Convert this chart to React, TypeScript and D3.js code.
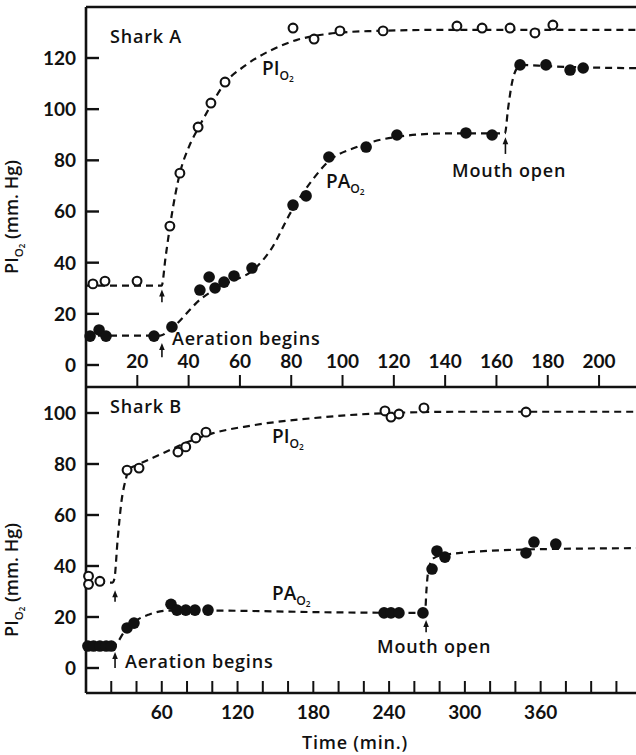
import React from "react";
import * as d3 from "d3";

const W = 636;
const H = 755;

// ---------- Shark A (top panel) ----------
const aPiO2Points: [number, number][] = [
  [2.7, 31.7], [7.4, 32.8], [19.9, 32.8], [32.7, 54.3], [36.6, 75], [43.7, 93],
  [48.7, 102.4], [54.2, 110.6], [80.7, 131.7], [88.9, 127.4], [99, 130.6],
  [115.8, 130.6], [144.6, 132.5], [154.4, 131.7], [165.3, 131.7], [175, 129.8], [182, 132.9],
];
const aPaO2Points: [number, number][] = [
  [1.6, 11.3], [5.1, 13.7], [7.8, 11.3], [26.5, 11.3], [33.5, 14.9], [44.4, 29.3],
  [48, 34.4], [50.3, 30.1], [53.8, 32.4], [57.7, 34.8], [64.7, 37.9], [80.7, 62.5],
  [85.8, 66.1], [94.7, 81.3], [109.2, 85.2], [121.2, 89.9], [148.1, 90.7], [158.3, 89.9],
  [169.2, 117.3], [179.3, 117.3], [188.7, 115.3], [193.8, 116.1],
];
// fitted dashed curves
const aPiO2Curve: [number, number][] = [
  [0, 31], [29.5, 31], [31, 42], [33, 56], [36.6, 75], [40, 85], [44, 93], [49, 102],
  [54, 110], [62, 117], [72, 123], [82, 127], [95, 129.5], [110, 130.5], [140, 131], [215, 131],
];
const aPaO2Curve: [number, number][] = [
  [0, 11.5], [29, 11.5], [33, 14], [45, 26], [55, 32], [65, 37], [72, 45], [80, 60],
  [88, 72], [95, 80], [105, 85], [120, 89], [140, 90.5], [163.3, 90.5], [164.5, 100],
  [166, 110], [168, 116], [170, 117.3], [180, 116.8], [215, 116],
];
// arrows: [time, headValue, tailValue]
const aArrows: [number, number, number][] = [
  [29.6, 29.5, 24.5],
  [29.6, 8.6, 3],
  [163.5, 89, 82.5],
];
const aYTicks = [0, 20, 40, 60, 80, 100, 120];
const aXTicks = [20, 40, 60, 80, 100, 120, 140, 160, 180, 200];

// ---------- Shark B (bottom panel) ----------
const bPiO2Points: [number, number][] = [
  [2, 36], [2, 32.8], [11, 34], [32.5, 77.6], [42, 78.4], [72.8, 84.7], [79, 86.7],
  [87, 90.2], [95, 92.5], [236.7, 100.8], [241.5, 98.4], [247.8, 99.6], [267.6, 102], [348.4, 100.4],
];
const bPaO2Points: [number, number][] = [
  [1.5, 8.6], [6, 8.6], [11, 8.6], [16, 8.6], [20, 8.6], [32.5, 15.7], [38, 17.6],
  [67.3, 25], [72, 22.7], [79, 22.7], [86.3, 22.7], [96.6, 22.7], [236, 21.6],
  [241.5, 21.6], [247.8, 21.6], [266.8, 21.6], [274, 38.8], [277.9, 45.9], [284.2, 43.5],
  [348.4, 45.1], [354.7, 49.4], [372, 48.6],
];
const bPiO2Curve: [number, number][] = [
  [0, 33.5], [21, 33.5], [22.5, 35], [25, 50], [28, 65], [31.5, 74], [34, 78],
  [40, 79.5], [60, 84], [80, 88.5], [100, 92], [130, 95], [180, 98], [240, 100],
  [300, 100.5], [436, 100.5],
];
const bPaO2Curve: [number, number][] = [
  [0, 8.6], [21, 8.6], [24, 9.5], [30, 14], [38, 18], [50, 21], [65, 22.5],
  [100, 22.5], [200, 21.8], [268.5, 21.6], [269.5, 30], [271, 38], [275, 43],
  [285, 44.5], [350, 46.5], [436, 47],
];
const bArrows: [number, number, number][] = [
  [23, 30.5, 26],
  [23, 6.3, 0],
  [269.3, 18.8, 14],
];
const bYTicks = [0, 20, 40, 60, 80, 100];
const bXTicks = d3.range(20, 421, 20);
const bXLabels = [60, 120, 180, 240, 300, 360];

// ---------- layout ----------
const LEFT = 86;
const TOP = 7;
const MID = 387;
const BOTTOM = 693;

const xA = d3.scaleLinear().domain([0, 214.4]).range([LEFT, W]);
const yA = d3.scaleLinear().domain([0, 120]).range([365, 58]);
const xB = d3.scaleLinear().domain([0, 435.5]).range([LEFT, W]);
const yB = d3.scaleLinear().domain([0, 100]).range([668, 413]);

const NUM_FONT = "Lato, 'DejaVu Sans', sans-serif";
const TXT_FONT = "'Open Sans', 'DejaVu Sans', sans-serif";
const INK = "#111";
const TXT_SIZE = 18;
const TXT_LS = 0.8;

function Curve({ pts, x, y }: { pts: [number, number][]; x: any; y: any }) {
  const line = d3
    .line<[number, number]>()
    .x((d) => x(d[0]))
    .y((d) => y(d[1]))
    .curve(d3.curveMonotoneX);
  return (
    <path d={line(pts) || ""} fill="none" stroke={INK} strokeWidth={2.2} strokeDasharray="7 5" />
  );
}

function Dots({ pts, x, y, open }: { pts: [number, number][]; x: any; y: any; open: boolean }) {
  return (
    <g>
      {pts.map((d, i) =>
        open ? (
          <circle key={i} cx={x(d[0])} cy={y(d[1])} r={4.4} fill="#fff" stroke={INK} strokeWidth={2.1} />
        ) : (
          <circle key={i} cx={x(d[0])} cy={y(d[1])} r={5.8} fill={INK} />
        )
      )}
    </g>
  );
}

function Arrows({ arr, x, y }: { arr: [number, number, number][]; x: any; y: any }) {
  return (
    <g>
      {arr.map((a, i) => {
        const cx = x(a[0]);
        const hy = y(a[1]);
        const ty = y(a[2]);
        return (
          <g key={i}>
            <line x1={cx} x2={cx} y1={hy + 4} y2={ty} stroke={INK} strokeWidth={1.6} />
            <path d={`M${cx - 2.8},${hy + 7} L${cx},${hy} L${cx + 2.8},${hy + 7} Z`} fill={INK} />
          </g>
        );
      })}
    </g>
  );
}

function SubLabel({ x, y, main, size = 19 }: { x: number; y: number; main: string; size?: number }) {
  return (
    <text x={x} y={y} fontFamily={TXT_FONT} fontWeight={600} fontSize={size} fill={INK}>
      {main}
      <tspan fontSize={size * 0.64} dy={5}>O</tspan>
      <tspan fontSize={size * 0.44} dy={2}>2</tspan>
    </text>
  );
}

function YTitle({ cx, cy }: { cx: number; cy: number }) {
  return (
    <text
      transform={`translate(${cx},${cy}) rotate(-90)`}
      textAnchor="middle"
      fontFamily={TXT_FONT}
      fontWeight={600}
      fontSize={18}
      fill={INK}
    >
      PI
      <tspan fontSize={11.5} dy={5}>O</tspan>
      <tspan fontSize={8} dy={2}>2</tspan>
      <tspan dy={-7}> (mm. Hg)</tspan>
    </text>
  );
}

function Note({ x, y, children }: { x: number; y: number; children: React.ReactNode }) {
  return (
    <text x={x} y={y} fontFamily={TXT_FONT} fontWeight={600} fontSize={TXT_SIZE} letterSpacing={TXT_LS} fill={INK}>
      {children}
    </text>
  );
}

export default function App() {
  return (
    <svg width={W} height={H} style={{ position: "absolute", left: 0, top: 0, background: "#fff" }}>
      <rect x={0} y={0} width={W} height={H} fill="#fff" />
      {/* frame */}
      <g stroke={INK} strokeWidth={2.6} fill="none">
        <line x1={LEFT} x2={LEFT} y1={TOP} y2={BOTTOM} />
        <line x1={LEFT} x2={W} y1={TOP} y2={TOP} />
        <line x1={LEFT} x2={W} y1={MID} y2={MID} />
        <line x1={LEFT} x2={W} y1={BOTTOM} y2={BOTTOM} />
      </g>

      {/* ---- top panel axes ---- */}
      {aYTicks.map((t) => (
        <g key={"ay" + t}>
          <line x1={LEFT} x2={LEFT + 13} y1={yA(t)} y2={yA(t)} stroke={INK} strokeWidth={2.4} />
          <text x={LEFT - 10} y={yA(t)} dy="0.36em" textAnchor="end" fontFamily={NUM_FONT} fontWeight={700} fontSize={19} fill={INK}>
            {t}
          </text>
        </g>
      ))}
      {aXTicks.map((t) => (
        <g key={"ax" + t}>
          <line x1={xA(t)} x2={xA(t)} y1={MID} y2={MID - 12} stroke={INK} strokeWidth={2} />
          <text x={xA(t)} y={368} textAnchor="middle" fontFamily={NUM_FONT} fontWeight={700} fontSize={19} fill={INK}>
            {t}
          </text>
        </g>
      ))}
      <YTitle cx={18} cy={217} />
      <Note x={110} y={43}>Shark A</Note>

      <Curve pts={aPiO2Curve} x={xA} y={yA} />
      <Curve pts={aPaO2Curve} x={xA} y={yA} />
      <Dots pts={aPiO2Points} x={xA} y={yA} open={true} />
      <Dots pts={aPaO2Points} x={xA} y={yA} open={false} />
      <Arrows arr={aArrows} x={xA} y={yA} />
      <SubLabel x={262} y={75} main="PI" />
      <SubLabel x={326} y={188} main="PA" />
      <Note x={172} y={345}>Aeration begins</Note>
      <Note x={452} y={177}>Mouth open</Note>

      {/* ---- bottom panel axes ---- */}
      {bYTicks.map((t) => (
        <g key={"by" + t}>
          <line x1={LEFT} x2={LEFT + 13} y1={yB(t)} y2={yB(t)} stroke={INK} strokeWidth={2.4} />
          <text x={LEFT - 10} y={yB(t)} dy="0.36em" textAnchor="end" fontFamily={NUM_FONT} fontWeight={700} fontSize={19} fill={INK}>
            {t}
          </text>
        </g>
      ))}
      {bXTicks.map((t) => (
        <line key={"bx" + t} x1={xB(t)} x2={xB(t)} y1={BOTTOM} y2={BOTTOM - 12} stroke={INK} strokeWidth={2} />
      ))}
      {bXLabels.map((t) => (
        <text key={"bl" + t} x={xB(t)} y={719} textAnchor="middle" fontFamily={NUM_FONT} fontWeight={700} fontSize={19} fill={INK}>
          {t}
        </text>
      ))}
      <text x={355} y={749} textAnchor="middle" fontFamily={TXT_FONT} fontWeight={600} fontSize={TXT_SIZE} letterSpacing={TXT_LS} fill={INK}>
        Time (min.)
      </text>
      <YTitle cx={18} cy={580} />
      <Note x={110} y={413}>Shark B</Note>

      <Curve pts={bPiO2Curve} x={xB} y={yB} />
      <Curve pts={bPaO2Curve} x={xB} y={yB} />
      <Dots pts={bPiO2Points} x={xB} y={yB} open={true} />
      <Dots pts={bPaO2Points} x={xB} y={yB} open={false} />
      <Arrows arr={bArrows} x={xB} y={yB} />
      <SubLabel x={272} y={443} main="PI" />
      <SubLabel x={272} y={600} main="PA" />
      <Note x={125} y={668}>Aeration begins</Note>
      <Note x={377} y={653}>Mouth open</Note>
    </svg>
  );
}
